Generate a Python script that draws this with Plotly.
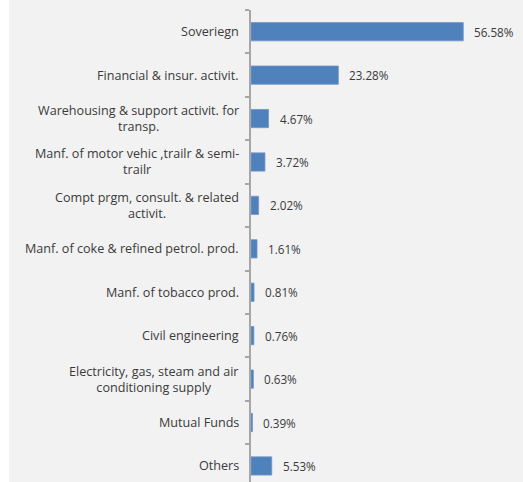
import plotly.graph_objects as go

categories = [
    "Soveriegn",
    "Financial & insur. activit.",
    "Warehousing & support activit. for<br>transp.",
    "Manf. of motor vehic ,trailr & semi-<br>trailr",
    "Compt prgm, consult. & related<br>activit.",
    "Manf. of coke & refined petrol. prod.",
    "Manf. of tobacco prod.",
    "Civil engineering",
    "Electricity, gas, steam and air<br>conditioning supply",
    "Mutual Funds",
    "Others",
]
values = [56.58, 23.28, 4.67, 3.72, 2.02, 1.61, 0.81, 0.76, 0.63, 0.39, 5.53]
value_labels = ["56.58%", "23.28%", "4.67%", "3.72%", "2.02%", "1.61%",
                "0.81%", "0.76%", "0.63%", "0.39%", "5.53%"]

FONT = "Open Sans"
TXT = "#3a3a3a"

fig = go.Figure()
fig.add_trace(go.Bar(
    x=values, y=categories, orientation="h",
    marker=dict(color="#4F81BD", line=dict(color="#6F97C8", width=0.8)),
    width=0.42, hoverinfo="skip",
))

annotations = []
for c, v, t in zip(categories, values, value_labels):
    annotations.append(dict(
        x=v, y=c, xref="x", yref="y", text=t, showarrow=False,
        xanchor="left", xshift=9, font=dict(family=FONT, size=11.7, color=TXT),
    ))
    annotations.append(dict(
        x=0, y=c, xref="x", yref="y", text=c, showarrow=False,
        xanchor="right", xshift=-10, align="center",
        font=dict(family=FONT, size=12.6, color=TXT),
    ))

L = 251
W = 523 - L
fig.update_layout(
    width=523, height=482,
    margin=dict(l=L, r=0, t=10, b=0),
    paper_bgcolor="#F2F2F2", plot_bgcolor="#F2F2F2",
    showlegend=False,
    annotations=annotations,
    shapes=[dict(type="rect", xref="paper", yref="paper",
                 x0=-L / W, x1=(9 - L) / W, y0=-0.1, y1=1.1,
                 fillcolor="white", line=dict(width=0), layer="below")],
    xaxis=dict(range=[0, 72.5], visible=False, fixedrange=True),
    yaxis=dict(
        type="category", categoryorder="array", categoryarray=categories,
        range=[10.37, -0.5], showticklabels=False,
        ticks="outside", tickson="boundaries", ticklen=4, tickwidth=1.5,
        tickcolor="#A6A6A6", showline=True, linecolor="#A6A6A6", linewidth=2,
        showgrid=False, zeroline=False,
    ),
)

fig.write_html("out.html")
